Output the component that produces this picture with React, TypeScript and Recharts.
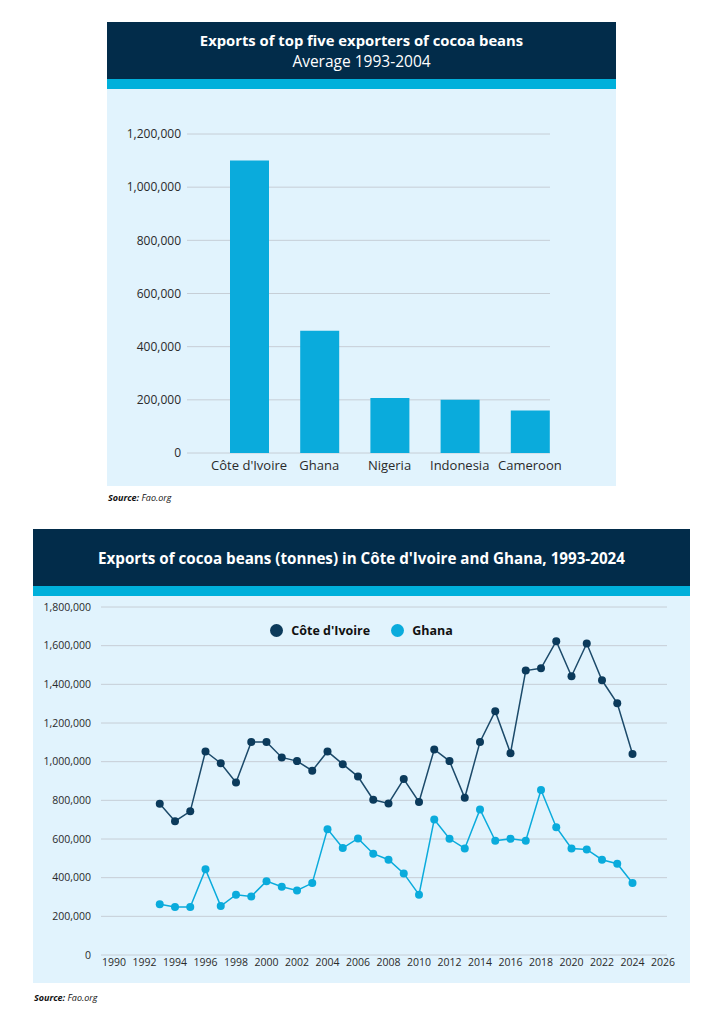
import React from 'react';
import { BarChart, Bar, LineChart, Line, XAxis, YAxis, CartesianGrid, Legend } from 'recharts';

const exporters = ['Côte d\'Ivoire', 'Ghana', 'Nigeria', 'Indonesia', 'Cameroon'];
const avgExports = [1100000, 460000, 207000, 200000, 160000];
const barTicks = [0, 200000, 400000, 600000, 800000, 1000000, 1200000];

const years = [
  1993, 1994, 1995, 1996, 1997, 1998, 1999, 2000, 2001, 2002, 2003, 2004, 2005, 2006, 2007, 2008,
  2009, 2010, 2011, 2012, 2013, 2014, 2015, 2016, 2017, 2018, 2019, 2020, 2021, 2022, 2023, 2024,
];
const coteIvoire = [
  782000, 692000, 743000, 1053000, 992000, 892000, 1102000, 1102000, 1022000, 1003000, 953000, 1053000,
  987000, 923000, 803000, 784000, 910000, 792000, 1063000, 1003000, 813000, 1102000, 1261000, 1044000,
  1471000, 1483000, 1623000, 1442000, 1611000, 1421000, 1302000, 1040000,
];
const ghana = [
  262000, 248000, 248000, 443000, 253000, 312000, 303000, 382000, 353000, 334000, 372000, 651000,
  553000, 603000, 524000, 493000, 422000, 312000, 701000, 601000, 551000, 753000, 591000, 601000,
  591000, 853000, 661000, 551000, 546000, 493000, 472000, 372000,
];
const yearTicks = [1990, 1992, 1994, 1996, 1998, 2000, 2002, 2004, 2006, 2008, 2010, 2012, 2014, 2016, 2018, 2020, 2022, 2024, 2026];
const lineTicks = [0, 200000, 400000, 600000, 800000, 1000000, 1200000, 1400000, 1600000, 1800000];

const NAVY = '#022c4a';
const CYAN = '#00b0db';
const PANEL = '#e1f3fd';
const BAR = '#0aabdc';
const DARK_LINE = '#1c4a6a';
const DARK_DOT = '#0b3a5b';
const GRID = '#c6ced6';
const FONT = '"Open Sans", sans-serif';

const barData = exporters.map((name, i) => ({ name, value: avgExports[i] }));
const lineData = years.map((year, i) => ({ year, cote: coteIvoire[i], ghana: ghana[i] }));

const fmt = (v: number) => v.toLocaleString('en-US');

const legendItems = [
  { label: 'Côte d\'Ivoire', color: DARK_DOT },
  { label: 'Ghana', color: BAR },
];

const LegendContent = () => (
  <div style={{ display: 'flex', justifyContent: 'center', alignItems: 'center', fontFamily: FONT }}>
    {legendItems.map((it, i) => (
      <div key={it.label} style={{ display: 'flex', alignItems: 'center', marginLeft: i ? 21 : 0 }}>
        <span style={{ width: 13, height: 13, borderRadius: '50%', background: it.color, display: 'inline-block', marginRight: 8 }} />
        <span style={{ fontSize: 12.5, fontWeight: 700, color: '#111' }}>{it.label}</span>
      </div>
    ))}
  </div>
);

const Header = ({ left, top, width, height, children }: any) => (
  <div
    style={{
      position: 'absolute', left, top, width, height, background: NAVY, borderBottom: `10px solid ${CYAN}`,
      color: '#fff', fontFamily: FONT, display: 'flex', flexDirection: 'column', justifyContent: 'center',
      alignItems: 'center', textAlign: 'center',
    }}
  >
    {children}
  </div>
);

const Source = ({ left, top }: { left: number; top: number }) => (
  <div style={{ position: 'absolute', left, top, fontFamily: FONT, fontSize: 9, fontStyle: 'italic', color: '#111' }}>
    <b>Source:</b> Fao.org
  </div>
);

export default function App() {
  return (
    <div style={{ position: 'absolute', left: 0, top: 0, width: 724, height: 1024, background: '#fff' }}>
      <Header left={107} top={22} width={509} height={57}>
        <div style={{ fontSize: 14.8, fontWeight: 700, lineHeight: '20px' }}>Exports of top five exporters of cocoa beans</div>
        <div style={{ fontSize: 15.5, lineHeight: '20px', marginTop: 1 }}>Average 1993-2004</div>
      </Header>
      <div style={{ position: 'absolute', left: 107, top: 89, width: 509, height: 397, background: PANEL }}>
        <BarChart width={509} height={397} data={barData} margin={{ top: 45, right: 66, bottom: 0, left: 0 }}>
          <CartesianGrid vertical={false} stroke={GRID} />
          <XAxis
            dataKey="name"
            axisLine={false}
            tickLine={false}
            tickSize={0}
            tickMargin={8}
            height={33}
            padding={{ left: 27, right: -15 }}
            tick={{ fontSize: 13, fill: '#2a2a2a', fontFamily: FONT }}
            interval={0}
          />
          <YAxis
            domain={[0, 1200000]}
            ticks={barTicks}
            tickFormatter={fmt}
            axisLine={false}
            tickLine={false}
            tickSize={0}
            tickMargin={6}
            width={80}
            tick={{ fontSize: 12, fill: '#2a2a2a', fontFamily: FONT }}
          />
          <Bar dataKey="value" fill={BAR} barSize={39} isAnimationActive={false} />
        </BarChart>
      </div>
      <Source left={108} top={491} />

      <Header left={33} top={529} width={657} height={57}>
        <div style={{ fontSize: 15.2, fontWeight: 700 }}>
          Exports of cocoa beans (tonnes) in Côte d'Ivoire and Ghana, 1993-2024
        </div>
      </Header>
      <div style={{ position: 'absolute', left: 33, top: 596, width: 657, height: 387, background: PANEL }}>
        <LineChart width={657} height={387} data={lineData} margin={{ top: 11, right: 23, bottom: 0, left: 0 }}>
          <CartesianGrid vertical={false} stroke={GRID} />
          <XAxis
            dataKey="year"
            type="number"
            domain={[1990, 2026]}
            ticks={yearTicks}
            interval={0}
            axisLine={false}
            tickLine={false}
            tickSize={0}
            tickMargin={4}
            height={28}
            padding={{ left: 13, right: 4 }}
            tick={{ fontSize: 10.5, fill: '#2a2a2a', fontFamily: FONT }}
          />
          <YAxis
            domain={[0, 1800000]}
            ticks={lineTicks}
            tickFormatter={fmt}
            axisLine={false}
            tickLine={false}
            tickSize={0}
            tickMargin={10}
            width={68}
            tick={{ fontSize: 10.5, fill: '#2a2a2a', fontFamily: FONT }}
          />
          <Legend
            verticalAlign="middle"
            align="center"
            content={() => <LegendContent />}
            wrapperStyle={{ top: 26, left: 0, width: 657 }}
          />
          <Line
            dataKey="cote"
            name="Côte d'Ivoire"
            stroke={DARK_LINE}
            strokeWidth={1.5}
            dot={{ r: 4, fill: DARK_DOT, stroke: 'none' }}
            isAnimationActive={false}
          />
          <Line
            dataKey="ghana"
            name="Ghana"
            stroke={BAR}
            strokeWidth={1.5}
            dot={{ r: 4, fill: BAR, stroke: 'none' }}
            isAnimationActive={false}
          />
        </LineChart>
      </div>
      <Source left={34} top={991} />
    </div>
  );
}
